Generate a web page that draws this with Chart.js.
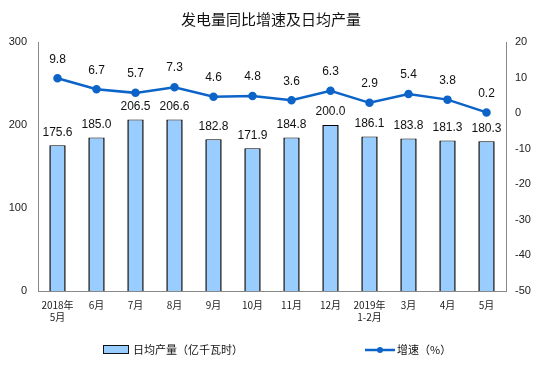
<!DOCTYPE html>
<html>
<head>
<meta charset="utf-8">
<script src="https://cdn.jsdelivr.net/npm/chart.js@4.4.0/dist/chart.umd.min.js"></script>
<style>
  html, body { margin: 0; padding: 0; background: #fff; }
  #wrap { width: 559px; height: 385px; }
</style>
</head>
<body>
<div id="wrap"><canvas id="myChart" width="559" height="385"></canvas></div>
<script>
// data
const months = [['2018年', '5月'], '6月', '7月', '8月', '9月', '10月', '11月', '12月', ['2019年', '1-2月'], '3月', '4月', '5月'];
const dailyOutput = [175.6, 185.0, 206.5, 206.6, 182.8, 171.9, 184.8, 200.0, 186.1, 183.8, 181.3, 180.3];
const growthRate = [9.8, 6.7, 5.7, 7.3, 4.6, 4.8, 3.6, 6.3, 2.9, 5.4, 3.8, 0.2];
const leftTicks = [0, 100, 200, 300];
const rightTicks = [-50, -40, -30, -20, -10, 0, 10, 20];

const titleText = '发电量同比增速及日均产量';
const barLabel = '日均产量（亿千瓦时）';
const lineLabel = '增速（%）';

const barColor = '#99ccff';
const lineColor = '#0d64c8';
const cjk = '"Noto Sans CJK SC", "Liberation Sans", sans-serif';

// labels, title and legend drawn on top of the chart
const extras = {
    id: 'extras',
    afterDatasetsDraw(chart) {
        const ctx = chart.ctx;
        ctx.save();
        ctx.fillStyle = '#111';
        ctx.textAlign = 'center';
        ctx.textBaseline = 'middle';
        ctx.font = '12px "Liberation Sans", Arial, sans-serif';

        chart.getDatasetMeta(0).data.forEach((bar, i) => {
            ctx.fillText(dailyOutput[i].toFixed(1), bar.x, bar.y - 13);
        });
        chart.getDatasetMeta(1).data.forEach((pt, i) => {
            ctx.fillText(growthRate[i].toFixed(1), pt.x, pt.y - 19);
        });

        // title
        ctx.font = '15px ' + cjk;
        ctx.fillText(titleText, 271, 19);

        // legend
        ctx.font = '11px ' + cjk;
        ctx.textAlign = 'left';
        ctx.fillStyle = barColor;
        ctx.fillRect(103, 346, 25, 7);
        ctx.strokeStyle = '#111';
        ctx.lineWidth = 1;
        ctx.strokeRect(103.5, 345.5, 25, 8);
        ctx.fillStyle = '#111';
        ctx.fillText(barLabel, 133, 350);

        ctx.strokeStyle = lineColor;
        ctx.lineWidth = 2.5;
        ctx.beginPath();
        ctx.moveTo(365, 350);
        ctx.lineTo(395, 350);
        ctx.stroke();
        ctx.fillStyle = lineColor;
        ctx.beginPath();
        ctx.arc(380, 350, 3, 0, Math.PI * 2);
        ctx.fill();
        ctx.fillStyle = '#111';
        ctx.fillText(lineLabel, 397, 350);
        ctx.restore();
    }
};

const ctx = document.getElementById('myChart').getContext('2d');
const myChart = new Chart(ctx, {
    type: 'bar',
    data: {
        labels: months,
        datasets: [{
            type: 'bar',
            label: barLabel,
            data: dailyOutput,
            yAxisID: 'y',
            backgroundColor: barColor,
            borderColor: '#000',
            borderWidth: { left: 1.5, right: 1.5, top: 1, bottom: 0 },
            borderSkipped: false,
            categoryPercentage: 1,
            barPercentage: 0.42,
            order: 2
        }, {
            type: 'line',
            label: lineLabel,
            data: growthRate,
            yAxisID: 'y1',
            borderColor: lineColor,
            backgroundColor: lineColor,
            borderWidth: 2.5,
            pointRadius: 3,
            pointHoverRadius: 3,
            tension: 0,
            order: 1
        }]
    },
    plugins: [extras],
    options: {
        responsive: false,
        animation: false,
        layout: { padding: { top: 42, left: 0, right: 0, bottom: 0 } },
        plugins: {
            legend: { display: false },
            title: { display: false },
            tooltip: { enabled: false }
        },
        scales: {
            x: {
                grid: { display: false, drawTicks: false },
                border: { color: '#888' },
                ticks: {
                    color: '#222',
                    font: { size: 10, family: cjk },
                    maxRotation: 0,
                    autoSkip: false,
                    padding: 8
                },
                afterFit(scale) { scale.height = 94; }
            },
            y: {
                position: 'left',
                min: 0,
                max: 300,
                afterBuildTicks(scale) { scale.ticks = leftTicks.map(v => ({ value: v })); },
                grid: { display: false, drawTicks: true, tickLength: 3, tickColor: '#888' },
                border: { color: '#888' },
                ticks: {
                    color: '#222',
                    font: { size: 11, family: '"Liberation Sans", Arial, sans-serif' },
                    padding: 8
                },
                afterFit(scale) { scale.width = 38; }
            },
            y1: {
                position: 'right',
                min: -50,
                max: 20,
                afterBuildTicks(scale) { scale.ticks = rightTicks.map(v => ({ value: v })); },
                grid: { display: false, drawTicks: true, tickLength: 3, tickColor: '#888' },
                border: { color: '#888' },
                ticks: {
                    color: '#222',
                    font: { size: 11, family: '"Liberation Sans", Arial, sans-serif' },
                    padding: 6
                },
                afterFit(scale) { scale.width = 53; }
            }
        }
    }
});
</script>
</body>
</html>
